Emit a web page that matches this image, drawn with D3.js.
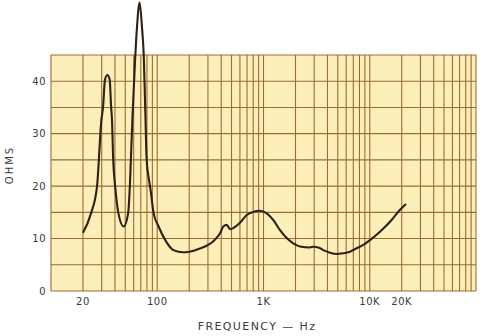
<!DOCTYPE html>
<html>
<head>
<meta charset="utf-8">
<script src="https://cdn.jsdelivr.net/npm/d3@7"></script>
<style>
  body { margin: 0; background: #ffffff; }
  text { font-family: "DejaVu Sans", sans-serif; fill: #3a3a3a; }
</style>
</head>
<body>
<div id="chart"></div>
<script>
// Impedance curve (Hz, ohms)
const freqs = [20, 23.8, 27.1, 29.8, 30.9, 32.2, 34, 35.7, 36.8, 37.5, 38.5, 40.2, 43.1, 48.3,
    53.2, 55.2, 58.3, 61.5, 64.3, 68.2, 72, 74.6, 77, 79.5, 83, 86.5, 92.5, 103, 119, 142, 175, 200, 252,
    337, 390, 419, 451, 484, 520, 601, 695, 802, 927, 1072, 1239, 1430, 1652, 1907, 2204,
    2740, 2945, 3283, 3659, 4228, 4886, 5641, 6520, 7535, 8700, 10050, 12480, 15510, 19280, 21950];
const ohms = [11.1, 14.8, 19.9, 32.6, 35.1, 40.3, 41.2, 40.3, 35.1, 32.6, 25.0, 19.9, 14.8, 12.3,
    14.8, 19.9, 32.6, 43.0, 50.0, 55.0, 50.0, 45.0, 35.1, 25.0, 21.6, 19.3, 14.8, 12.3, 9.7, 7.8, 7.4, 7.5, 8.1,
    9.5, 11.0, 12.3, 12.6, 11.8, 12.0, 13.0, 14.5, 15.1, 15.3, 14.8, 13.5, 11.6, 10.1, 9.1, 8.5,
    8.3, 8.45, 8.3, 7.8, 7.3, 7.06, 7.2, 7.5, 8.15, 8.8, 9.7, 11.3, 13.2, 15.5, 16.6];

const xTickValues = [20, 100, 1000, 10000, 20000];
const xTickLabels = ["20", "100", "1K", "10K", "20K"];
const yTickValues = [0, 10, 20, 30, 40];

const margin = { top: 55, right: 14, bottom: 45, left: 51 },
    width = 490 - margin.left - margin.right,
    height = 336 - margin.top - margin.bottom;

const svg = d3.select("#chart")
    .append("svg")
    .attr("width", 490)
    .attr("height", 336)
    .append("g")
    .attr("transform", `translate(${margin.left},${margin.top})`);

// Scales
const xScale = d3.scaleLog()
    .domain([10, 100000])
    .range([0, width]);

const yScale = d3.scaleLinear()
    .domain([0, 45])
    .range([height, 0]);

// Graph paper background
svg.append("rect")
    .attr("width", width)
    .attr("height", height)
    .style("fill", "#fcefba");

// Grid lines
svg.append("g")
    .selectAll("line")
    .data(xScale.ticks())
    .enter()
    .append("line")
    .attr("x1", d => xScale(d))
    .attr("x2", d => xScale(d))
    .attr("y1", 0)
    .attr("y2", height)
    .style("stroke", "#9c6d2e")
    .style("stroke-width", 1.1);

svg.append("g")
    .selectAll("line")
    .data(yScale.ticks(9))
    .enter()
    .append("line")
    .attr("x1", 0)
    .attr("x2", width)
    .attr("y1", d => yScale(d))
    .attr("y2", d => yScale(d))
    .style("stroke", "#9c6d2e")
    .style("stroke-width", 1.1);

// Tick labels
svg.append("g")
    .selectAll("text")
    .data(xTickValues)
    .enter()
    .append("text")
    .attr("x", d => xScale(d))
    .attr("y", height + 14)
    .style("text-anchor", "middle")
    .style("font-size", "10px")
    .style("letter-spacing", "0.5px")
    .text((d, i) => xTickLabels[i]);

svg.append("g")
    .selectAll("text")
    .data(yTickValues)
    .enter()
    .append("text")
    .attr("x", -5)
    .attr("y", d => yScale(d))
    .attr("dy", "0.36em")
    .style("text-anchor", "end")
    .style("font-size", "10px")
    .style("letter-spacing", "0.5px")
    .text(d => d);

// Axis titles
svg.append("text")
    .attr("x", 206)
    .attr("y", height + 39)
    .style("text-anchor", "middle")
    .style("font-size", "11px")
    .style("letter-spacing", "1.4px")
    .text("FREQUENCY — Hz");

svg.append("text")
    .attr("transform", "rotate(-90)")
    .attr("x", -110)
    .attr("y", -38)
    .style("text-anchor", "middle")
    .style("font-size", "10px")
    .style("letter-spacing", "2px")
    .text("OHMS");

// Impedance curve
const line = d3.line()
    .x(d => xScale(d[0]))
    .y(d => yScale(d[1]))
    .curve(d3.curveMonotoneX);

svg.append("path")
    .datum(freqs.map((f, i) => [f, ohms[i]]))
    .attr("d", line)
    .style("fill", "none")
    .style("stroke", "#2e2013")
    .style("stroke-width", 2.1)
    .style("stroke-linejoin", "round");
</script>
</body>
</html>
